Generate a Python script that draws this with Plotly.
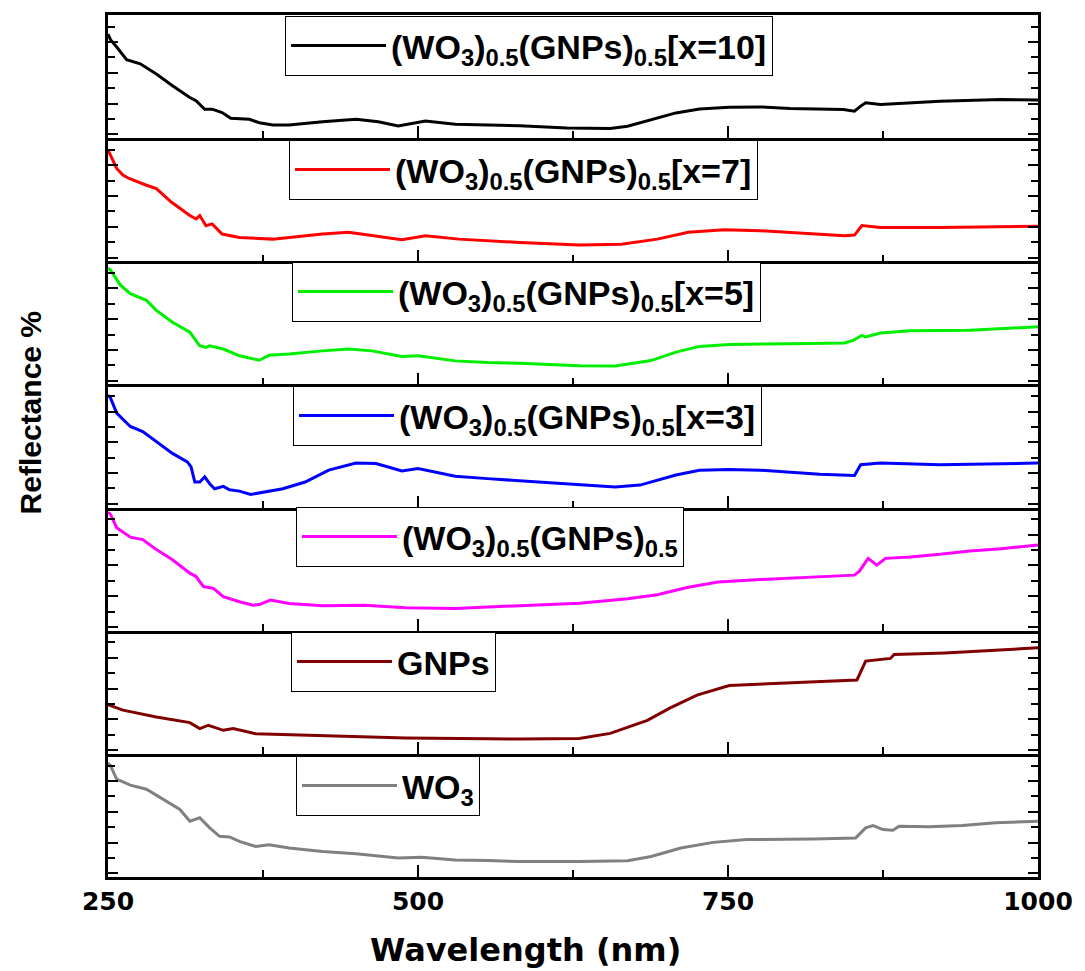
import plotly.graph_objects as go
from plotly.subplots import make_subplots

# ---------------- data (y in panel units) -------------
labels = [
    "(WO<sub>3</sub>)<sub>0.5</sub>(GNPs)<sub>0.5</sub>[x=10]",
    "(WO<sub>3</sub>)<sub>0.5</sub>(GNPs)<sub>0.5</sub>[x=7]",
    "(WO<sub>3</sub>)<sub>0.5</sub>(GNPs)<sub>0.5</sub>[x=5]",
    "(WO<sub>3</sub>)<sub>0.5</sub>(GNPs)<sub>0.5</sub>[x=3]",
    "(WO<sub>3</sub>)<sub>0.5</sub>(GNPs)<sub>0.5</sub>",
    "GNPs",
    "WO<sub>3</sub>",
]
colors = ["#000000", "#FF0000", "#00EE00", "#0000FF", "#FF00FF", "#800000", "#808080"]

x10_nm = [250, 252, 257, 265, 276, 289, 302, 316, 321, 328, 334, 342, 349, 364, 372, 383, 396, 423, 450,
          468, 484, 506, 530, 556, 582, 620, 655, 669, 688, 708, 727, 751, 776, 800, 843, 852, 857, 861,
          873, 897, 921, 970, 1000]
x10_r = [6.75, 6.4, 5.92, 5.1, 4.83, 4.17, 3.41, 2.64, 2.43, 1.88, 1.88, 1.66, 1.29, 1.22, 1.0, 0.85, 0.85,
         1.07, 1.22, 1.07, 0.79, 1.11, 0.9, 0.85, 0.81, 0.66, 0.62, 0.77, 1.2, 1.64, 1.9, 2.0, 2.03, 1.92,
         1.86, 1.75, 2.08, 2.3, 2.19, 2.3, 2.4, 2.51, 2.47]

x7_nm = [250, 257, 262, 267, 281, 289, 301, 316, 321, 324, 329, 334, 342, 356, 383, 423, 444, 463, 487, 506,
         533, 582, 630, 664, 693, 718, 747, 776, 844, 852, 858, 873, 921, 1000]
x7_r = [7.23, 6.03, 5.6, 5.38, 4.94, 4.72, 3.85, 2.97, 2.75, 2.97, 2.31, 2.43, 1.77, 1.55, 1.44, 1.77, 1.88,
        1.66, 1.4, 1.66, 1.44, 1.22, 1.05, 1.11, 1.44, 1.88, 2.05, 1.99, 1.66, 1.7, 2.32, 2.2, 2.2, 2.27]

x5_nm = [250, 252, 260, 268, 281, 289, 302, 316, 324, 329, 332, 343, 356, 372, 380, 396, 423, 444, 463, 487,
         500, 530, 556, 582, 630, 659, 688, 708, 727, 751, 800, 844, 851, 858, 861, 873, 897, 945, 1000]
x5_r = [7.55, 7.43, 6.45, 5.9, 5.46, 4.81, 4.04, 3.39, 2.51, 2.4, 2.51, 2.3, 1.86, 1.57, 1.9, 1.97, 2.18, 2.3,
        2.18, 1.81, 1.86, 1.53, 1.42, 1.38, 1.22, 1.2, 1.55, 2.1, 2.47, 2.6, 2.64, 2.69, 2.86, 3.19, 3.08,
        3.34, 3.48, 3.52, 3.74]

x3_nm = [250, 252, 257, 268, 278, 289, 302, 314, 317, 320, 324, 328, 332, 336, 343, 348, 356, 365, 375, 391,
         409, 428, 450, 466, 476, 487, 500, 516, 530, 556, 582, 630, 659, 679, 708, 727, 751, 776, 824, 852,
         857, 873, 921, 1000]
x3_r = [7.3, 7.13, 6.14, 5.27, 4.94, 4.28, 3.52, 2.97, 2.64, 1.66, 1.66, 1.99, 1.55, 1.22, 1.38, 1.16, 1.07,
        0.85, 1.0, 1.22, 1.66, 2.43, 2.9, 2.86, 2.64, 2.38, 2.54, 2.25, 2.03, 1.88, 1.73, 1.46, 1.33, 1.46,
        2.12, 2.43, 2.47, 2.43, 2.16, 2.08, 2.78, 2.9, 2.78, 2.89]

mix_nm = [250, 252, 257, 268, 278, 289, 302, 316, 321, 327, 335, 343, 356, 367, 372, 381, 396, 423, 457, 490,
          530, 556, 582, 630, 669, 693, 718, 742, 776, 824, 852, 856, 863, 870, 877, 897, 921, 945, 970, 1000]
mix_r = [7.7, 7.56, 6.69, 6.08, 5.92, 5.27, 4.61, 3.74, 3.52, 2.87, 2.75, 2.21, 1.88, 1.66, 1.7, 1.99, 1.77,
         1.62, 1.66, 1.49, 1.45, 1.55, 1.64, 1.79, 2.08, 2.34, 2.82, 3.17, 3.32, 3.48, 3.61, 3.87, 4.7, 4.26,
         4.7, 4.79, 4.96, 5.18, 5.33, 5.57]

gnp_nm = [250, 262, 289, 316, 324, 331, 343, 351, 369, 396, 450, 490, 556, 582, 630, 655, 685, 703, 725, 751,
          792, 845, 854, 861, 881, 884, 925, 1000]
gnp_r = [3.2, 2.84, 2.4, 2.03, 1.64, 1.86, 1.53, 1.64, 1.31, 1.25, 1.16, 1.03, 0.98, 0.96, 1.0, 1.33, 2.18,
         2.97, 3.82, 4.44, 4.59, 4.74, 4.8, 6.03, 6.2, 6.45, 6.56, 6.89]

wo3_nm = [250, 252, 257, 268, 281, 294, 308, 316, 321, 324, 332, 340, 348, 356, 369, 380, 396, 423, 450, 484,
          503, 530, 556, 582, 630, 669, 688, 712, 738, 765, 819, 853, 861, 867, 875, 883, 888, 912, 939, 966,
          1000]
wo3_r = [7.4, 7.23, 6.36, 5.97, 5.7, 5.05, 4.39, 3.63, 3.74, 3.85, 3.19, 2.64, 2.6, 2.31, 1.99, 2.1, 1.88,
         1.66, 1.51, 1.23, 1.29, 1.11, 1.07, 1.0, 1.0, 1.05, 1.33, 1.88, 2.25, 2.43, 2.47, 2.54, 3.19, 3.34,
         3.08, 3.04, 3.3, 3.26, 3.34, 3.52, 3.63]

series_x = [x10_nm, x7_nm, x5_nm, x3_nm, mix_nm, gnp_nm, wo3_nm]
series_y = [x10_r, x7_r, x5_r, x3_r, mix_r, gnp_r, wo3_r]

x_ticks = [250, 500, 750, 1000]
x_minor = [375, 625, 875]
y_major = [0.24, 2.24, 4.24, 6.24]
y_minor = [1.24, 3.24, 5.24, 7.24]

# legend box top-left corners (pixels) -> converted to paper coords below
leg_left_px = [286, 290, 293, 294, 297, 292, 297]
leg_top_px = [16, 140, 262, 386, 507, 632, 756]

# ---------------- figure ----------------
W, H = 1085, 971
ML, MR, MT, MB = 108, 42, 15, 94
PW, PH = W - ML - MR, H - MT - MB

n = 7
fig = make_subplots(rows=n, cols=1, vertical_spacing=0)

legend_font = dict(family="Liberation Sans, Arial, sans-serif", size=34, color="black", weight="bold")

for i in range(n):
    lname = "legend" if i == 0 else f"legend{i+1}"
    fig.add_trace(go.Scatter(x=series_x[i], y=series_y[i], mode="lines", name=labels[i],
                             line=dict(color=colors[i], width=3), legend=lname),
                  row=i + 1, col=1)
    fig.update_layout({lname: dict(
        x=(leg_left_px[i] - ML) / PW, y=(H - MB - leg_top_px[i]) / PH,
        xanchor="left", yanchor="top", bgcolor="white", bordercolor="black", borderwidth=1,
        font=legend_font, itemwidth=95, tracegroupgap=0,
    )})
    fig.update_xaxes(range=[250, 1000], tickvals=x_ticks, ticks="inside", ticklen=12, tickwidth=2,
                     tickcolor="black", showline=True, linewidth=2.5, linecolor="black",
                     mirror=(i == 0),
                     showgrid=False, zeroline=False,
                     minor=dict(tickvals=x_minor, ticks="inside", ticklen=7, tickwidth=2, tickcolor="black"),
                     showticklabels=(i == n - 1),
                     tickfont=dict(family="DejaVu Sans", size=25, color="black", weight="bold"),
                     row=i + 1, col=1)
    fig.update_yaxes(range=[0, 8], tickvals=y_major, ticks="inside", ticklen=10, tickwidth=2,
                     tickcolor="black", showline=True, linewidth=2.5, linecolor="black", mirror="ticks",
                     showgrid=False, zeroline=False, showticklabels=False,
                     minor=dict(tickvals=y_minor, ticks="inside", ticklen=7, tickwidth=2, tickcolor="black"),
                     row=i + 1, col=1)

fig.add_annotation(text="<b>Wavelength (nm)</b>", xref="paper", yref="paper",
                   x=(528 - ML) / PW, y=(H - MB - 950) / PH, xanchor="center", yanchor="middle",
                   showarrow=False, font=dict(family="DejaVu Sans", size=32, color="black"))
fig.add_annotation(text="<b>Reflectance %</b>", xref="paper", yref="paper", textangle=-90,
                   x=(30 - ML) / PW, y=(H - MB - 413) / PH, xanchor="center", yanchor="middle",
                   showarrow=False, font=dict(family="Liberation Sans, Arial, sans-serif", size=30,
                                              color="black"))

fig.update_layout(width=W, height=H, margin=dict(l=ML, r=MR, t=MT, b=MB),
                  paper_bgcolor="white", plot_bgcolor="white", showlegend=True)

fig.write_html("out.html")
